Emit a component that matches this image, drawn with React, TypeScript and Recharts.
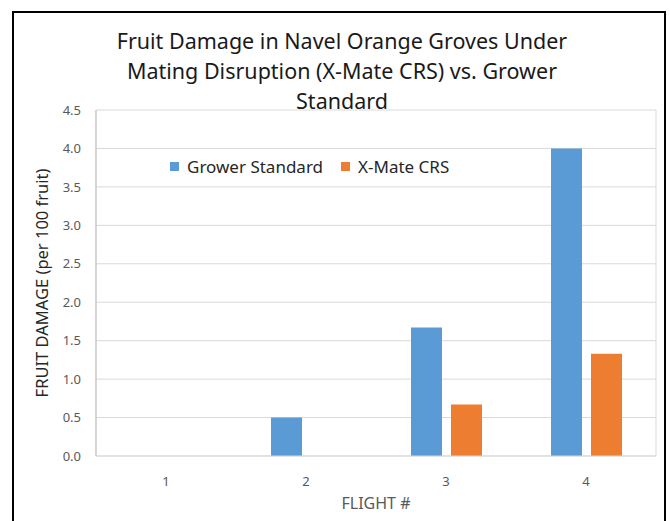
import React from 'react';
import { BarChart, Bar, XAxis, YAxis, CartesianGrid, Label } from 'recharts';

// values (fruit damage per 100 fruit)
const flights = ['1', '2', '3', '4'];
const growerStandard = [0, 0.5, 1.67, 4.0];
const xMateCrs = [0, 0, 0.67, 1.33];
const yTicks = [0, 0.5, 1, 1.5, 2, 2.5, 3, 3.5, 4, 4.5];

const titleLines = [
  'Fruit Damage in Navel Orange Groves Under',
  'Mating Disruption (X-Mate CRS) vs. Grower',
  'Standard',
];

const BLUE = '#5b9bd5';
const ORANGE = '#ed7d31';
const FONT = '"Noto Sans", "Open Sans", sans-serif';

const series = [
  { key: 'grower', name: 'Grower Standard', color: BLUE },
  { key: 'xmate', name: 'X-Mate CRS', color: ORANGE },
];

const data = flights.map((f, i) => ({
  flight: f,
  grower: growerStandard[i],
  xmate: xMateCrs[i],
}));

export default function App() {
  return (
    <div style={{ position: 'absolute', left: 0, top: 0, width: 670, height: 521, overflow: 'hidden', background: '#fff' }}>
      {/* outer chart frame, cut off at the bottom like the screenshot */}
      <div
        style={{
          position: 'absolute',
          left: 12,
          top: 11,
          width: 654,
          height: 540,
          border: '2px solid #000',
          boxSizing: 'border-box',
        }}
      />
      <div
        style={{
          position: 'absolute',
          left: 12,
          width: 660,
          top: 26,
          textAlign: 'center',
          fontFamily: FONT,
          fontSize: 21.5,
          lineHeight: '30px',
          color: '#1a1a1a',
        }}
      >
        {titleLines.map((t) => (
          <div key={t}>{t}</div>
        ))}
      </div>
      <div style={{ position: 'absolute', left: 0, top: 0 }}>
        <BarChart
          width={670}
          height={521}
          data={data}
          margin={{ top: 110, right: 14, bottom: 0, left: 36 }}
          barSize={31}
          barGap={9}
        >
          <CartesianGrid
            stroke="#d9d9d9"
            strokeWidth={1}
            verticalCoordinatesGenerator={({ offset }: any) => [offset.left, offset.left + offset.width]}
          />
          <XAxis
            dataKey="flight"
            height={65}
            tickLine={false}
            axisLine={{ stroke: '#d9d9d9' }}
            tickMargin={15}
            tick={{ fontSize: 13, fill: '#595959', fontFamily: FONT }}
          >
            <Label
              content={({ viewBox }: any) => (
                <text
                  x={viewBox.x + viewBox.width / 2}
                  y={viewBox.y + 49}
                  textAnchor="middle"
                  dominantBaseline="middle"
                  fontFamily={FONT}
                  fontSize={16}
                  fill="#595959"
                >
                  FLIGHT #
                </text>
              )}
            />
          </XAxis>
          <YAxis
            width={60}
            domain={[0, 4.5]}
            ticks={yTicks}
            interval={0}
            tickFormatter={(v: number) => v.toFixed(1)}
            tickLine={false}
            axisLine={{ stroke: '#bfbfbf' }}
            tickMargin={9}
            tick={{ fontSize: 13, fill: '#595959', fontFamily: FONT }}
          >
            <Label
              content={({ viewBox }: any) => {
                const cx = viewBox.x + 8;
                const cy = viewBox.y + viewBox.height / 2;
                return (
                  <text
                    x={cx}
                    y={cy}
                    transform={`rotate(-90 ${cx} ${cy})`}
                    textAnchor="middle"
                    dominantBaseline="middle"
                    fontFamily={FONT}
                    fontSize={16.5}
                    fill="#262626"
                  >
                    FRUIT DAMAGE (per 100 fruit)
                  </text>
                );
              }}
            />
          </YAxis>
          {series.map((s) => (
            <Bar key={s.key} dataKey={s.key} name={s.name} fill={s.color} isAnimationActive={false} />
          ))}
        </BarChart>
      </div>
      {/* legend sits inside the plot area */}
      <div
        style={{
          position: 'absolute',
          left: 170,
          top: 155,
          display: 'flex',
          alignItems: 'center',
          fontFamily: FONT,
          fontSize: 17,
          color: '#262626',
        }}
      >
        {series.map((s, i) => (
          <div key={s.key} style={{ display: 'flex', alignItems: 'center', marginRight: i === 0 ? 18 : 0 }}>
            <span style={{ width: 9, height: 9, background: s.color, display: 'inline-block', marginRight: 8 }} />
            <span>{s.name}</span>
          </div>
        ))}
      </div>
    </div>
  );
}
